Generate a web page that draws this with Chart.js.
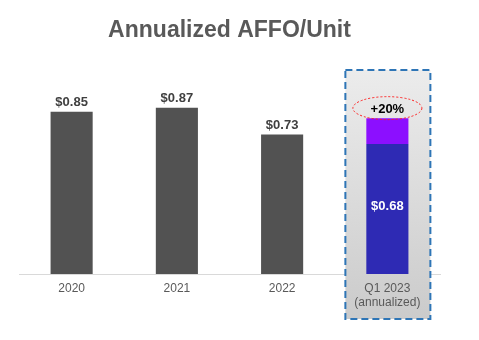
<!DOCTYPE html>
<html>
<head>
<meta charset="utf-8">
<script src="https://cdn.jsdelivr.net/npm/chart.js@4.4.1/dist/chart.umd.min.js"></script>
<style>
  html, body { margin: 0; padding: 0; background: #ffffff; }
  #wrap { width: 479px; height: 340px; position: relative; }
</style>
</head>
<body>
<div id="wrap"><canvas id="c"></canvas></div>
<script>
// Annualized AFFO per unit
const categories = ['2020', '2021', '2022', ['Q1 2023', '(annualized)']];
const annualAffo = [0.85, 0.87, 0.73, null];
const q1Base = [null, null, null, 0.68];
const q1Uplift = [null, null, null, 0.136];   // +20% on top of the Q1 run-rate
const valueLabels = ['$0.85', '$0.87', '$0.73', '$0.68'];
const upliftLabel = '+20%';

const FONT = "'Liberation Sans', Arial, sans-serif";

// Baseline, then the shaded dashed frame behind the Q1 2023 column
const highlightBox = {
  id: 'highlightBox',
  beforeDraw(chart) {
    const { ctx, chartArea, scales: { x } } = chart;
    ctx.save();
    ctx.strokeStyle = '#d9d9d9';
    ctx.lineWidth = 1;
    ctx.beginPath();
    ctx.moveTo(chartArea.left, chartArea.bottom + 0.5);
    ctx.lineTo(chartArea.right + 1, chartArea.bottom + 0.5);
    ctx.stroke();

    const cx = x.getPixelForValue(3);
    const left = cx - 42, right = cx + 43;
    const top = chartArea.top - 13, bottom = chartArea.bottom + 45;
    const g = ctx.createLinearGradient(0, top, 0, bottom);
    g.addColorStop(0, '#ececec');
    g.addColorStop(1, '#cbcbcb');
    ctx.fillStyle = g;
    ctx.fillRect(left, top, right - left, bottom - top);
    ctx.setLineDash([7, 4]);
    ctx.lineWidth = 2;
    ctx.strokeStyle = '#2e75b6';
    ctx.strokeRect(left, top, right - left, bottom - top);
    ctx.restore();
  }
};

// Value labels, the uplift callout and its dotted ellipse
const barLabels = {
  id: 'barLabels',
  afterDatasetsDraw(chart) {
    const { ctx } = chart;
    ctx.save();
    ctx.font = 'bold 13px ' + FONT;
    ctx.textAlign = 'center';
    ctx.textBaseline = 'alphabetic';
    const m0 = chart.getDatasetMeta(0);
    m0.data.forEach((bar, i) => {
      if (annualAffo[i] == null) return;
      ctx.fillStyle = '#404040';
      ctx.fillText(valueLabels[i], bar.x, bar.y - 6);
    });
    const base = chart.getDatasetMeta(1).data[3];
    ctx.fillStyle = '#ffffff';
    ctx.textBaseline = 'middle';
    ctx.fillText(valueLabels[3], base.x, (base.y + base.base) / 2 - 3);
    const up = chart.getDatasetMeta(2).data[3];
    const ey = up.y - 10;
    ctx.beginPath();
    ctx.ellipse(up.x, ey, 34.5, 11.5, 0, 0, Math.PI * 2);
    ctx.setLineDash([2, 2]);
    ctx.lineWidth = 1;
    ctx.strokeStyle = '#ff2020';
    ctx.stroke();
    ctx.setLineDash([]);
    ctx.fillStyle = '#000000';
    ctx.fillText(upliftLabel, up.x, ey + 1);
    ctx.restore();
  }
};

new Chart(document.getElementById('c'), {
  type: 'bar',
  data: {
    labels: categories,
    datasets: [
      { label: 'AFFO/Unit', data: annualAffo, backgroundColor: '#525252' },
      { label: 'Q1 2023', data: q1Base, backgroundColor: '#2e2ab4' },
      { label: 'Uplift', data: q1Uplift, backgroundColor: '#8c0fff' }
    ]
  },
  options: {
    responsive: true,
    maintainAspectRatio: false,
    animation: false,
    devicePixelRatio: 1,
    layout: { padding: { left: 19, right: 39, top: 0, bottom: 0 } },
    datasets: { bar: { categoryPercentage: 1, barPercentage: 0.4 } },
    plugins: {
      legend: { display: false },
      tooltip: { enabled: false },
      title: {
        display: true,
        text: 'Annualized AFFO/Unit',
        color: '#595959',
        font: { family: FONT, size: 23, weight: 'bold', lineHeight: 1.2 },
        padding: { top: 17, bottom: 38.4 }
      }
    },
    scales: {
      x: {
        stacked: true,
        grid: { display: false, drawTicks: false },
        border: { display: false },
        ticks: { color: '#595959', padding: 7, font: { family: FONT, size: 12, lineHeight: 1.2 } },
        afterFit(s) { s.height = 66; }
      },
      y: {
        stacked: true,
        display: false,
        min: 0,
        max: 1.0
      }
    }
  },
  plugins: [highlightBox, barLabels]
});
</script>
</body>
</html>
